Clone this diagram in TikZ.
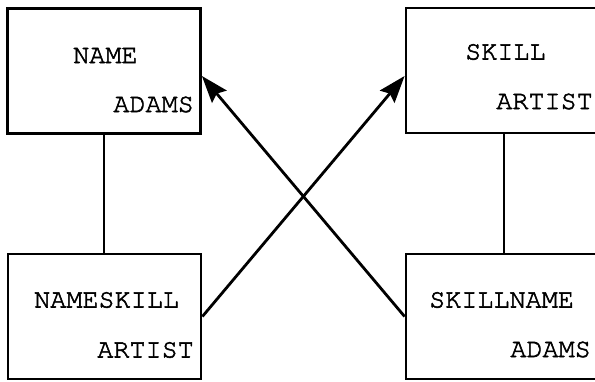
\documentclass[tikz,border=0pt]{standalone}
\usepackage{fontspec}
\newfontfamily\recfont{texgyrecursor-regular.otf}[FakeBold=2]
\usetikzlibrary{positioning,arrows.meta}

\begin{document}
\begin{tikzpicture}[x=1pt,y=-1pt,
    recbox/.style={draw=black,line width=2.8pt,rectangle,inner sep=0pt,minimum width=193pt,minimum height=125pt},
    fld/.style={inner sep=0pt,font=\recfont\fontsize{26.8}{28}\selectfont},
    link/.style={line width=2.8pt},
    ptr/.style={line width=2.8pt,-{Stealth[length=27pt,width=19pt,inset=4pt]}}]
        \useasboundingbox (0,0) rectangle (595,382);
        % record boxes
        \node[recbox] (name) at (104,71) {};
        \node[recbox] (nameskill) at (104.5,316.5) {};
        \node[recbox] (skill) at (502.5,70.5) {};
        \node[recbox] (skillname) at (502.5,316.5) {};
        % field texts
        \node[fld,anchor=west] (nameK) at (73,55.5) {NAME};
        \node[fld,anchor=east] (nameV) at (194,104.5) {ADAMS};
        \node[fld,anchor=west] (nameskillK) at (34,300) {NAMESKILL};
        \node[fld,anchor=east] (nameskillV) at (194,350) {ARTIST};
        \node[fld,anchor=west] (skillK) at (465,52) {SKILL};
        \node[fld,anchor=east] (skillV) at (593,101.5) {ARTIST};
        \node[fld,anchor=west] (skillnameK) at (429,300) {SKILLNAME};
        \node[fld,anchor=east] (skillnameV) at (591,349.5) {ADAMS};
        % connectors
        \draw[link] (name.south) -- (name.south |- nameskill.north);
        \draw[link] ([xshift=1.5pt]skill.south) -- ([xshift=1.5pt]skill.south |- skillname.north);
        \draw[ptr] (nameskill.east) -- ([yshift=-5.5pt]skill.west);
        \draw[ptr] (skillname.west) -- ([yshift=-5pt]name.east);
      \end{tikzpicture}
\end{document}
